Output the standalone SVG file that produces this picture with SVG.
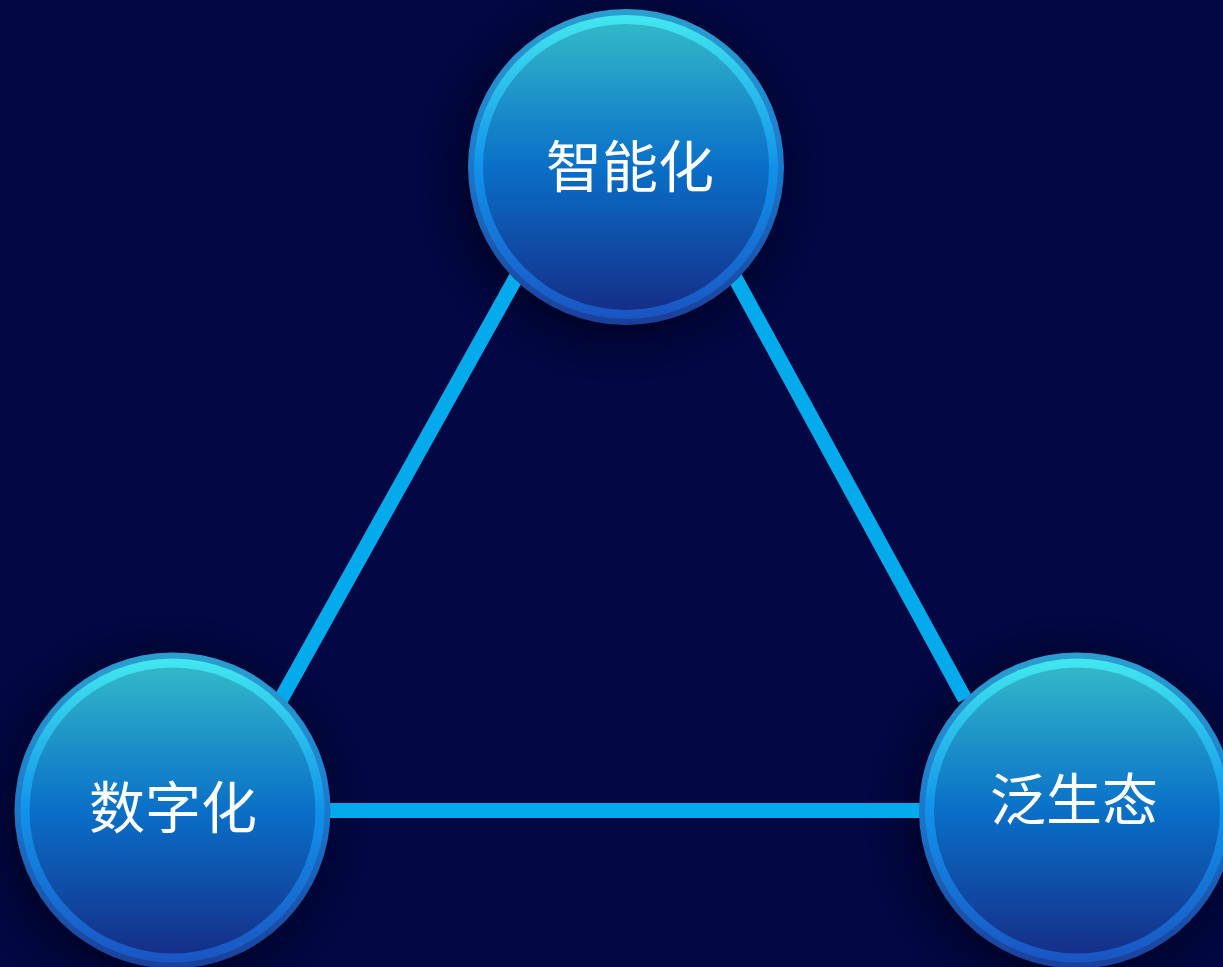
<svg xmlns="http://www.w3.org/2000/svg" width="1223" height="967" viewBox="0 0 1223 967">
  <defs>
    <linearGradient id="rim" x1="0" y1="0" x2="0" y2="1">
      <stop offset="0" stop-color="#2a9fcf"/>
      <stop offset="0.5" stop-color="#1a78cc"/>
      <stop offset="1" stop-color="#1a3f9a"/>
    </linearGradient>
    <linearGradient id="ring" x1="0" y1="0" x2="0" y2="1">
      <stop offset="0" stop-color="#42e8ee"/>
      <stop offset="0.5" stop-color="#1192ea"/>
      <stop offset="1" stop-color="#1a55c2"/>
    </linearGradient>
    <linearGradient id="core" x1="0" y1="0" x2="0" y2="1">
      <stop offset="0" stop-color="#32b8c8"/>
      <stop offset="0.5" stop-color="#0a6fc8"/>
      <stop offset="1" stop-color="#152f88"/>
    </linearGradient>
    <filter id="blur" x="-40%" y="-40%" width="180%" height="180%">
      <feGaussianBlur stdDeviation="22"/>
    </filter>
    <style>
      .rim { fill: url(#rim); }
      .ring { fill: url(#ring); }
      .core { fill: url(#core); }
      .shade { fill: #000018; opacity: 0.8; filter: url(#blur); }
      .lbl { font-family: "Noto Sans CJK SC", "Noto Sans", sans-serif; font-size: 56px; fill: #ffffff; text-anchor: middle; }
      .edge { stroke: #03aaec; stroke-width: 15; stroke-linecap: butt; fill: none; }
    </style>
  </defs>
  <rect width="1223" height="967" fill="#010843"/>

  <g id="shadows">
    <circle class="shade" cx="620" cy="177" r="158"/>
    <circle class="shade" cx="166" cy="820" r="158"/>
    <circle class="shade" cx="1071" cy="820" r="158"/>
  </g>

  <g id="connectors">
    <line class="edge" x1="280" y1="701" x2="518" y2="274"/>
    <line class="edge" x1="733" y1="274" x2="965" y2="699"/>
    <line class="edge" x1="320" y1="810.5" x2="930" y2="810.5"/>
  </g>

  <g id="node-zhineng">
    <circle class="rim" cx="626" cy="167" r="158"/>
    <circle class="ring" cx="626" cy="167" r="152"/>
    <circle class="core" cx="626" cy="167" r="143"/>
    <text class="lbl" x="630" y="187">智能化</text>
  </g>

  <g id="node-shuzi">
    <circle class="rim" cx="172.5" cy="810.5" r="158"/>
    <circle class="ring" cx="172.5" cy="810.5" r="152"/>
    <circle class="core" cx="172.5" cy="810.5" r="143"/>
    <text class="lbl" x="173" y="828">数字化</text>
  </g>

  <g id="node-fanshengtai">
    <circle class="rim" cx="1077" cy="810.5" r="158"/>
    <circle class="ring" cx="1077" cy="810.5" r="152"/>
    <circle class="core" cx="1077" cy="810.5" r="143"/>
    <text class="lbl" x="1074" y="820">泛生态</text>
  </g>
</svg>
